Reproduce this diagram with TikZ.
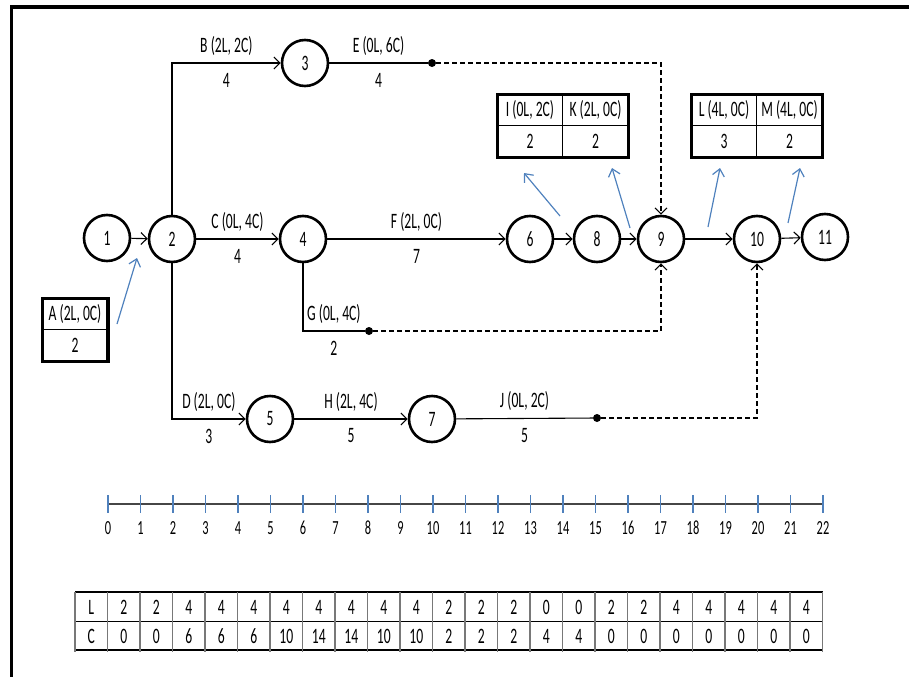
\documentclass[tikz,border=0pt]{standalone}
\usepackage{fontspec}
\setmainfont{Carlito}
\newfontfamily\cond[FakeStretch=0.62]{Carlito}
\usetikzlibrary{arrows.meta, positioning, calc}
\definecolor{tickblue}{RGB}{79,129,189}
\definecolor{axisgray}{RGB}{70,70,70}
\definecolor{rulegray}{RGB}{120,120,120}

\begin{document}
\begin{tikzpicture}[x=1pt, y=-1pt,
    every node/.style={font=\cond\fontsize{22}{26}\selectfont},
    event/.style={draw, circle, line width=2.6pt, minimum size=46pt, inner sep=0pt},
    act/.style={line width=1.1pt, -{Straight Barb[length=6pt, width=12pt]}},
    dummy/.style={line width=1.1pt, dash pattern=on 5pt off 3pt, -{Straight Barb[length=6pt, width=12pt]}},
    endpt/.style={circle, fill, inner sep=0pt, minimum size=8pt},
    cell/.style={draw, line width=1.2pt, minimum width=65.5pt, minimum height=31.5pt, inner sep=0pt, outer sep=0pt},
    pointer/.style={tickblue, line width=1.2pt, -{Straight Barb[length=7pt, width=12pt]}},
    lblup/.style={yshift=17pt}, lbldn/.style={yshift=-17pt}]
  \useasboundingbox (0,0) rectangle (909,677);

  % frame
  \draw[line width=3.5pt] (10,7) -- (909,7);
  \draw[line width=3pt] (11,7) -- (11,677);

  % events
  \node[event] (n1) at (107,238) {1};
  \node[event] (n2) at (172,239) {2};
  \node[event] (n3) at (305,63) {3};
  \node[event] (n4) at (303,239) {4};
  \node[event] (n5) at (270,419) {5};
  \node[event] (n6) at (530,239) {6};
  \node[event] (n7) at (432,419) {7};
  \node[event] (n8) at (597,239) {8};
  \node[event] (n9) at (661,239) {9};
  \node[event] (n10) at (757,239) {10};
  \node[event] (n11) at (825,237) {11};

  \node[endpt] (dE) at (432,63) {};
  \node[endpt] (dG) at (369,331) {};
  \node[endpt] (dJ) at (597,418) {};

  % activities
  \draw[act] (n1) -- (n2);
  \draw[act] (n2.north) |- (n3) node[pos=.75, lblup] {B (2L, 2C)} node[pos=.75, lbldn] {4};
  \draw[act] (n2) -- (n4) node[midway, lblup] {C (0L, 4C)} node[midway, lbldn] {4};
  \draw[act] (n2.south) |- (n5) node[pos=.75, lblup] {D (2L, 0C)} node[pos=.75, lbldn] {3};
  \draw[line width=1.1pt] (n3) -- (dE) node[midway, lblup] {E (0L, 6C)} node[midway, lbldn] {4};
  \draw[act] (n4) -- (n6) node[midway, lblup] {F (2L, 0C)} node[midway, lbldn] {7};
  \draw[line width=1.1pt] (n4.south) |- (dG) node[pos=.75, lblup] {G (0L, 4C)} node[pos=.75, lbldn] {2};
  \draw[act] (n5) -- (n7) node[midway, lblup] {H (2L, 4C)} node[midway, lbldn] {5};
  \draw[line width=1.1pt] (n7) -- (dJ) node[midway, lblup] {J (0L, 2C)} node[midway, lbldn] {5};
  \draw[act] (n6) -- (n8);
  \draw[act] (n8) -- (n9);
  \draw[act] (n9) -- (n10);
  \draw[act] (n10) -- (n11);
  \draw[dummy] (dE) -| (n9);
  \draw[dummy] (dG) -| (n9);
  \draw[dummy] (dJ) -| (n10);

  % activity boxes
  \node[cell] (Ahead) at (75,314) {A (2L, 0C)};
  \node[cell, below=0pt of Ahead] (Aval) {2};
  \draw[line width=3.5pt] (Ahead.north west) rectangle (Aval.south east);

  \node[cell] (Ihead) at (530,110) {I (0L, 2C)};
  \node[cell, right=0pt of Ihead] (Khead) {K (2L, 0C)};
  \node[cell, below=0pt of Ihead] (Ival) {2};
  \node[cell, below=0pt of Khead] (Kval) {2};
  \draw[line width=3.5pt] (Ihead.north west) rectangle (Kval.south east);

  \node[cell] (Lhead) at (724,110) {L (4L, 0C)};
  \node[cell, right=0pt of Lhead] (Mhead) {M (4L, 0C)};
  \node[cell, below=0pt of Lhead] (Lval) {3};
  \node[cell, below=0pt of Mhead] (Mval) {2};
  \draw[line width=3.5pt] (Lhead.north west) rectangle (Mval.south east);

  % pointers to the boxes
  \coordinate (pA) at (117,324);  \coordinate (qA) at (137,258);
  \coordinate (pI) at (560,216);  \coordinate (qI) at (524,173);
  \coordinate (pK) at (630,228);  \coordinate (qK) at (612,168);
  \coordinate (pL) at (708,227);  \coordinate (qL) at (720,168);
  \coordinate (pM) at (788,223);  \coordinate (qM) at (800,168);
  \foreach \b in {A,I,K,L,M}
    \draw[pointer] (p\b) -- (q\b);

  % time scale
  \coordinate (t0) at (108,504);
  \coordinate (t22) at (823,504);
  \draw[axisgray, line width=1.5pt] (t0) -- (t22);
  \foreach \i in {0,...,22} {
    \draw[tickblue, line width=1.6pt] ($(t0)+(32.5*\i,-9)$) -- ++(0,18);
    \node[font=\cond\fontsize{20}{24}\selectfont] (day\i) at ($(t0)+(32.5*\i,24)$) {\i};
  }

  % resource table
  \node (rowL) at (91.25,607) {L};
  \node (rowC) at (91.25,636) {C};
  \foreach \v [count=\i] in {2,2,4,4,4,4,4,4,4,4,2,2,2,0,0,2,2,4,4,4,4,4}
    \node (L\i) at (91.25+32.5*\i,607) {\v};
  \foreach \v [count=\i] in {0,0,6,6,6,10,14,14,10,10,2,2,2,4,4,0,0,0,0,0,0,0}
    \node (C\i) at (91.25+32.5*\i,636) {\v};
  \foreach \y in {592,621.5,650}
    \draw[line width=1.5pt] (75,\y) -- (823,\y);
  \foreach \i in {0,...,23}
    \draw[rulegray, line width=1.2pt] (75+32.5*\i,592) -- (75+32.5*\i,652);
\end{tikzpicture}
\end{document}
